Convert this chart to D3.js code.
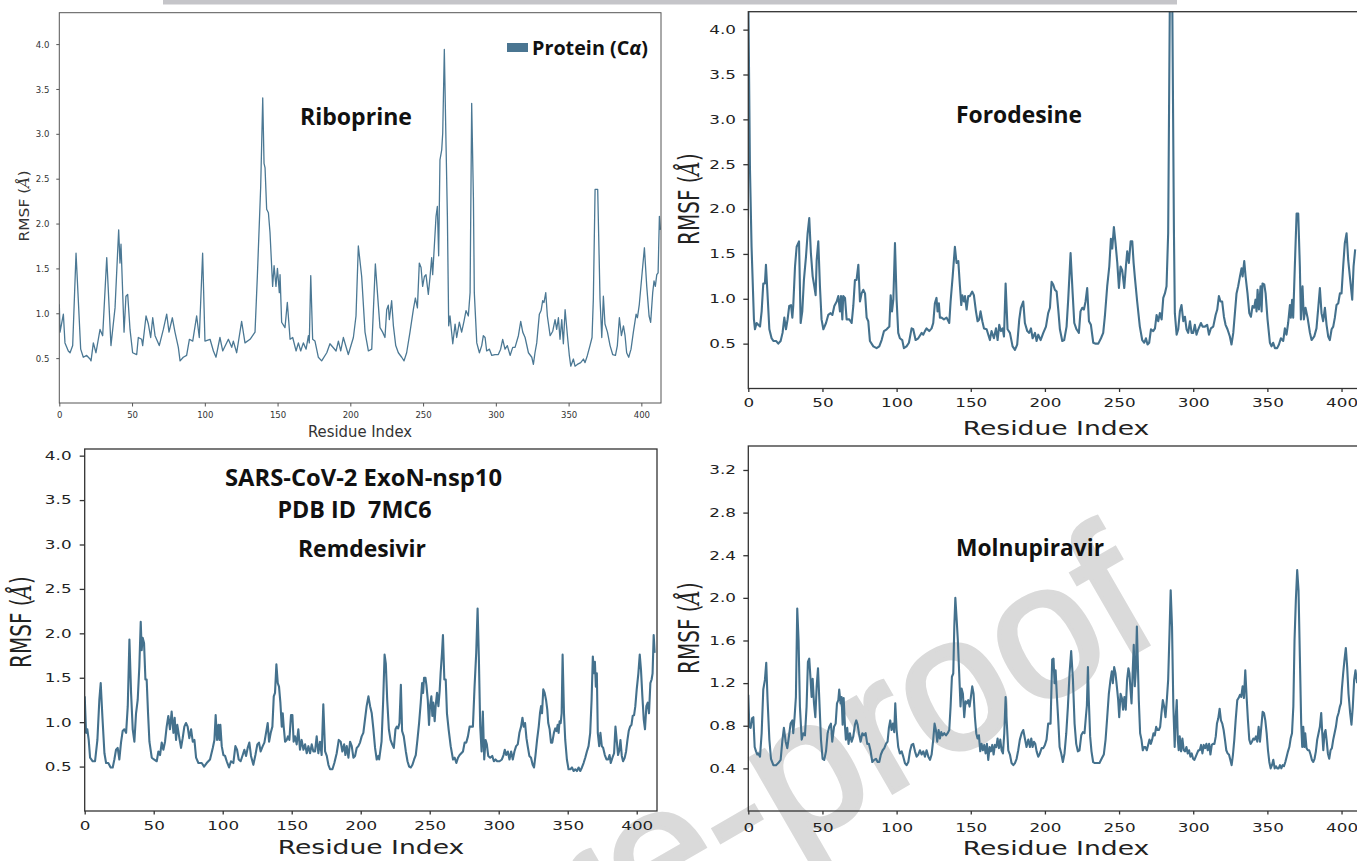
<!DOCTYPE html>
<html>
<head>
<meta charset="utf-8">
<script src="https://cdn.jsdelivr.net/npm/d3@7"></script>
<style>
  body { margin: 0; background: #fff; }
  svg { display: block; }
</style>
</head>
<body>
<script>
// RMSF per residue: [residue index, RMSF in Å]
const riboprine = [[0,1.10],[0.5,0.79],[2.8,0.99],[3.9,0.67],[6.2,0.58],[7.4,0.56],[9.2,0.64],[11.5,1.67],[14.7,0.60],[16.5,0.51],[18.8,0.53],[21.1,0.49],[21.8,0.47],[23.4,0.67],[25.2,0.56],[28.0,0.82],[29.8,0.75],[32.6,1.62],[35.5,0.64],[38.3,1.06],[40.8,1.93],[41.7,1.56],[42.4,1.77],[44.5,0.79],[45.8,1.19],[47.0,1.21],[48.6,0.82],[50.4,0.56],[53.2,0.54],[54.3,0.73],[56.6,0.71],[57.3,0.64],[59.6,0.97],[61.2,0.88],[62.8,0.73],[64.2,0.95],[65.8,0.75],[68.7,0.64],[71.5,0.82],[73.8,0.99],[75.4,0.79],[77.7,0.95],[79.5,0.79],[81.8,0.62],[83.0,0.47],[85.2,0.51],[87.5,0.53],[89.4,0.71],[91.7,0.69],[94.4,0.97],[96.2,0.73],[98.5,1.67],[100.1,0.69],[103.6,0.71],[105.9,0.58],[107.7,0.51],[110.4,0.73],[112.3,0.58],[116.2,0.71],[118.5,0.62],[119.6,0.69],[121.9,0.56],[125.3,0.91],[127.6,0.67],[131.1,0.71],[134.5,0.79],[136.1,1.41],[138.4,2.41],[139.8,3.40],[140.7,2.67],[141.4,2.62],[142.5,2.16],[143.7,2.12],[144.8,1.90],[146.6,1.30],[147.6,1.53],[148.9,1.30],[149.9,1.50],[151.2,1.23],[151.7,1.43],[152.8,0.90],[155.1,0.84],[156.7,1.12],[158.6,0.71],[160.4,0.73],[162.7,0.58],[164.3,0.67],[165.9,0.58],[167.7,0.67],[169.6,0.60],[171.2,0.75],[171.8,0.67],[172.8,1.42],[174.1,0.71],[175.7,0.69],[178.0,0.51],[180.3,0.47],[183.8,0.56],[186.0,0.66],[190.2,0.58],[191.8,0.69],[193.4,0.58],[195.2,0.73],[198.6,0.54],[202.1,0.73],[203.9,0.97],[205.5,1.75],[207.8,1.41],[210.1,0.79],[212.4,0.58],[214.7,0.60],[217.2,1.55],[219.3,1.08],[220.4,0.84],[222.2,0.79],[223.8,0.73],[225.0,1.04],[226.1,1.09],[226.8,0.93],[228.4,1.14],[229.6,0.86],[231.2,0.64],[233.0,0.56],[235.3,0.51],[236.9,0.47],[238.7,0.56],[241.0,0.79],[243.3,1.04],[244.7,1.17],[246.1,1.06],[247.4,1.56],[248.6,1.51],[249.7,1.30],[250.9,1.41],[252.0,1.43],[253.6,1.21],[254.8,1.41],[255.9,1.62],[256.6,1.43],[258.9,2.08],[259.8,2.19],[260.7,1.64],[261.6,2.71],[262.8,2.82],[263.5,3.01],[264.6,3.94],[265.8,2.86],[266.7,2.08],[267.6,0.86],[268.5,0.97],[270.4,0.66],[272.0,0.88],[273.1,0.73],[274.9,0.90],[276.5,0.79],[278.1,0.91],[279.5,1.03],[281.1,0.97],[282.3,1.23],[283.4,3.34],[284.6,2.27],[285.2,1.23],[286.9,0.67],[288.7,0.56],[290.3,0.64],[291.4,0.75],[292.6,0.73],[293.7,0.58],[295.6,0.60],[297.2,0.53],[299.4,0.54],[301.7,0.54],[303.3,0.60],[304.7,0.71],[306.3,0.60],[307.9,0.64],[309.8,0.53],[311.6,0.62],[313.2,0.62],[315.5,0.75],[317.1,0.91],[318.5,0.79],[320.1,0.73],[322.4,0.56],[324.7,0.51],[325.8,0.43],[326.9,0.56],[328.1,0.67],[329.9,0.99],[331.1,1.03],[332.2,1.14],[333.1,1.12],[334.3,1.23],[335.4,0.97],[337.3,0.75],[339.1,0.80],[340.7,0.93],[341.8,0.82],[343.0,0.95],[344.1,0.71],[345.3,0.93],[346.4,0.66],[347.6,1.04],[349.2,0.75],[350.5,0.53],[351.5,0.41],[353.3,0.49],[354.4,0.41],[356.0,0.43],[358.3,0.45],[360.2,0.49],[361.3,0.45],[362.9,0.53],[364.7,0.64],[366.1,0.73],[367.0,1.16],[368.2,2.38],[370.0,2.38],[371.6,1.16],[372.8,0.73],[373.9,1.19],[375.0,0.88],[376.7,0.79],[378.5,0.64],[380.3,0.54],[382.2,0.53],[383.5,0.64],[384.9,0.95],[386.3,0.75],[387.7,0.86],[388.8,0.75],[389.9,0.56],[391.3,0.51],[392.9,0.60],[394.5,0.79],[396.4,0.99],[397.3,0.95],[398.6,1.10],[400.3,1.41],[402.1,1.73],[403.7,1.30],[405.3,0.97],[406.4,0.90],[407.8,1.23],[408.7,1.36],[409.6,1.30],[410.6,1.43],[411.5,1.45],[412.4,2.08],[413.1,1.93]];

const forodesine = [[0,4.4],[1.1,2.47],[2.2,1.58],[3.8,0.77],[4.5,0.66],[5.6,0.73],[6.7,0.71],[7.9,0.69],[9.0,0.86],[10.1,1.17],[11.2,1.17],[11.9,1.38],[12.8,1.10],[14.2,0.66],[15.7,0.56],[16.9,0.53],[18.7,0.53],[20.2,0.50],[21.8,0.53],[23.1,0.62],[24.3,0.79],[25.4,0.66],[26.5,0.77],[27.6,0.92],[28.8,0.93],[29.7,0.79],[30.3,0.92],[31.5,1.36],[32.6,1.58],[34.2,1.64],[35.3,0.73],[36.4,0.86],[37.5,1.21],[38.9,1.47],[40.0,1.73],[41.1,1.90],[42.2,1.51],[43.4,1.25],[44.5,1.14],[45.4,1.04],[46.1,1.43],[47.2,1.64],[48.3,1.14],[49.4,0.77],[50.6,0.66],[52.4,0.73],[53.9,0.82],[55.5,0.84],[56.7,0.82],[58.0,0.92],[59.6,0.97],[60.7,1.03],[61.8,0.86],[62.5,1.03],[63.4,0.77],[64.0,1.03],[65.2,1.01],[66.3,0.77],[68.1,0.77],[69.7,0.73],[70.8,0.92],[71.9,1.21],[73.0,1.21],[74.2,1.38],[75.3,0.97],[76.4,1.06],[77.5,1.10],[78.7,1.06],[79.8,0.79],[80.9,0.75],[82.0,0.53],[84.3,0.47],[86.5,0.45],[88.3,0.47],[89.9,0.54],[91.5,0.64],[93.3,0.66],[95.1,0.69],[96.0,1.04],[96.9,0.86],[97.8,0.99],[98.9,1.62],[100.0,0.99],[101.1,0.62],[102.2,0.56],[103.8,0.54],[104.9,0.45],[106.7,0.47],[108.3,0.51],[110.1,0.67],[111.2,0.66],[112.8,0.54],[114.6,0.56],[116.9,0.62],[118.0,0.60],[119.1,0.64],[120.2,0.67],[122.0,0.64],[123.6,0.67],[124.7,0.73],[125.8,0.95],[126.9,1.01],[127.6,0.86],[128.5,0.95],[129.2,0.79],[130.3,0.79],[131.9,0.77],[133.7,0.79],[135.5,0.73],[136.4,0.97],[137.8,1.25],[139.3,1.58],[140.4,1.40],[141.6,1.42],[142.7,1.14],[143.6,0.93],[144.3,1.04],[145.4,0.97],[146.1,1.03],[147.2,0.88],[148.3,1.03],[149.4,1.03],[151.0,1.08],[152.1,1.04],[153.5,0.86],[154.6,0.75],[155.7,0.77],[156.6,0.86],[157.8,0.75],[158.9,0.67],[160.7,0.66],[162.9,0.54],[164.0,0.64],[165.6,0.56],[167.0,0.67],[168.1,0.54],[169.2,0.71],[170.3,0.64],[171.5,0.67],[172.4,0.58],[173.5,1.17],[174.8,0.66],[176.4,0.62],[178.2,0.47],[179.8,0.43],[181.3,0.49],[182.7,0.77],[183.8,0.90],[185.4,0.97],[186.5,0.73],[188.1,0.64],[189.4,0.62],[190.6,0.67],[191.7,0.56],[193.3,0.62],[194.4,0.53],[195.5,0.60],[197.1,0.54],[198.9,0.62],[200.7,0.69],[202.2,0.84],[203.4,0.90],[204.5,1.19],[205.6,1.16],[206.7,1.10],[207.9,1.08],[209.0,0.88],[210.1,0.66],[211.7,0.53],[213.0,0.54],[214.6,0.69],[215.7,0.99],[217.3,1.51],[218.7,1.06],[219.8,0.73],[221.3,0.66],[222.9,0.62],[224.0,0.86],[225.2,0.90],[226.3,0.88],[227.4,0.97],[228.5,1.12],[229.7,0.75],[231.0,0.71],[232.6,0.51],[234.2,0.50],[236.0,0.50],[237.8,0.56],[239.3,0.62],[240.4,0.80],[242.0,1.14],[243.4,1.36],[244.5,1.67],[245.4,1.56],[246.5,1.80],[247.6,1.62],[248.8,1.40],[249.9,1.12],[251.0,1.36],[252.1,1.32],[253.5,1.12],[254.6,1.36],[255.5,1.53],[256.6,1.40],[257.8,1.64],[258.9,1.64],[259.8,1.40],[260.7,1.23],[262.2,0.97],[264.0,0.69],[265.6,0.54],[267.0,0.51],[268.1,0.56],[269.2,0.49],[270.3,0.51],[271.5,0.66],[273.0,0.64],[274.2,0.67],[275.3,0.82],[276.4,0.75],[277.5,0.84],[278.7,0.77],[279.8,1.01],[280.9,1.06],[282.0,1.14],[283.1,1.73],[284.3,4.5],[285.8,4.5],[287.0,1.73],[287.6,0.84],[288.8,0.60],[289.9,0.66],[291.0,0.86],[292.1,0.93],[293.3,0.75],[294.4,0.80],[295.5,0.66],[296.6,0.62],[297.8,0.75],[298.9,0.62],[300.0,0.62],[301.1,0.71],[302.2,0.60],[303.4,0.66],[305.2,0.73],[306.3,0.69],[307.9,0.69],[309.4,0.71],[310.6,0.60],[311.9,0.67],[313.5,0.69],[315.1,0.82],[316.2,0.88],[317.3,1.03],[318.4,0.97],[319.5,0.97],[320.7,0.80],[321.8,0.71],[323.1,0.66],[324.7,0.58],[325.8,0.49],[327.0,0.62],[328.1,0.84],[329.2,1.06],[330.3,1.14],[331.5,1.25],[332.6,1.34],[333.3,1.25],[334.4,1.42],[335.3,1.25],[336.6,1.06],[337.8,0.84],[338.9,0.80],[340.0,0.92],[341.1,0.90],[342.0,0.99],[342.7,0.86],[343.4,1.10],[344.3,0.88],[345.4,1.14],[346.1,0.86],[346.7,1.17],[347.9,1.16],[348.8,1.06],[350.1,0.77],[351.7,0.51],[352.8,0.47],[353.9,0.51],[355.1,0.45],[356.6,0.45],[357.8,0.49],[359.1,0.56],[360.7,0.53],[361.8,0.67],[362.9,0.60],[364.0,0.73],[365.2,0.93],[365.8,0.79],[366.7,0.99],[367.4,0.79],[368.5,1.36],[369.7,1.95],[370.8,1.95],[371.9,1.36],[372.6,0.77],[373.7,1.14],[374.6,0.77],[375.7,0.90],[377.1,0.79],[378.7,0.62],[379.8,0.54],[381.6,0.58],[383.1,0.67],[384.3,0.90],[385.4,1.12],[386.5,0.84],[387.6,0.75],[388.8,0.90],[389.9,0.71],[391.0,0.58],[392.1,0.54],[393.3,0.66],[394.4,0.69],[395.5,0.79],[396.6,0.93],[397.8,0.95],[398.9,1.06],[400.0,1.06],[401.1,1.36],[402.2,1.62],[403.4,1.73],[404.5,1.43],[406.1,1.17],[407.2,0.99],[408.1,1.36],[409.2,1.55]];

const remdesivir = [[0,1.29],[1.0,0.88],[1.9,0.92],[2.9,0.80],[3.9,0.60],[5.8,0.56],[7.5,0.56],[9.2,0.80],[10.6,1.25],[11.6,1.44],[12.8,1.07],[14.3,0.65],[15.5,0.54],[17.1,0.54],[18.8,0.49],[20.3,0.49],[21.5,0.58],[22.7,0.69],[23.9,0.71],[25.1,0.58],[26.3,0.77],[27.5,0.90],[28.7,0.92],[30.0,0.88],[31.2,1.18],[32.4,1.93],[33.6,1.33],[34.8,0.92],[36.0,0.78],[37.2,1.10],[38.4,1.25],[39.6,1.63],[40.6,2.13],[41.3,1.81],[42.0,1.95],[43.0,1.89],[44.0,1.48],[44.9,1.48],[45.9,1.10],[46.9,0.78],[48.6,0.60],[50.2,0.58],[52.2,0.56],[53.4,0.67],[54.6,0.63],[55.8,0.77],[57.0,0.69],[58.2,0.78],[59.4,0.95],[60.6,1.07],[61.8,0.92],[63.0,1.12],[64.3,0.88],[65.2,1.05],[66.2,0.80],[67.1,0.97],[68.6,0.82],[69.8,0.71],[71.0,0.82],[72.2,0.95],[73.4,0.99],[74.6,0.95],[75.8,0.82],[77.1,0.92],[78.3,0.78],[79.5,0.80],[80.7,0.60],[82.4,0.54],[84.8,0.54],[86.5,0.50],[88.4,0.54],[90.8,0.58],[92.8,0.71],[94.0,0.80],[94.9,1.08],[95.9,0.80],[96.9,0.97],[97.6,0.80],[98.3,0.97],[99.3,0.73],[100.5,0.63],[101.7,0.62],[102.9,0.56],[104.6,0.49],[106.0,0.56],[107.7,0.54],[109.2,0.73],[110.4,0.69],[111.6,0.58],[113.0,0.56],[114.5,0.63],[115.7,0.69],[116.9,0.62],[118.1,0.71],[119.3,0.77],[120.5,0.62],[122.2,0.52],[123.7,0.63],[125.1,0.75],[126.3,0.77],[127.5,0.67],[129.0,0.73],[130.2,0.77],[131.4,0.88],[132.6,0.99],[133.6,0.78],[134.8,0.88],[136.0,0.95],[137.0,1.29],[137.9,1.33],[138.9,1.65],[139.9,1.44],[140.8,1.40],[141.8,1.22],[142.8,0.95],[143.5,1.10],[144.2,0.95],[145.2,0.78],[146.4,0.80],[147.3,0.84],[148.3,0.80],[149.5,1.08],[150.5,1.08],[151.4,0.78],[152.4,0.84],[153.6,0.75],[154.8,0.92],[156.0,0.69],[157.2,0.80],[158.5,0.69],[159.7,0.75],[160.9,0.65],[162.1,0.73],[163.3,0.65],[164.5,0.75],[165.7,0.67],[166.9,0.67],[168.1,0.84],[169.3,0.65],[170.5,0.78],[171.7,0.63],[172.9,1.20],[174.2,0.67],[175.4,0.62],[176.6,0.52],[177.8,0.47],[179.5,0.47],[180.9,0.54],[182.6,0.65],[184.1,0.80],[185.5,0.78],[186.7,0.67],[188.0,0.75],[188.9,0.63],[189.9,0.73],[191.1,0.60],[192.3,0.78],[193.5,0.73],[194.7,0.60],[195.9,0.62],[197.1,0.71],[198.3,0.73],[199.5,0.77],[200.7,0.84],[201.9,0.88],[203.1,1.03],[204.3,1.18],[205.6,1.29],[206.8,1.18],[208.0,1.10],[209.2,0.92],[210.4,0.71],[211.6,0.58],[212.8,0.62],[213.4,0.58],[215.1,0.78],[216.3,1.25],[217.3,1.76],[218.2,1.66],[219.2,1.25],[220.4,0.92],[221.6,0.80],[222.8,0.75],[224.0,0.71],[225.2,0.92],[226.2,0.95],[227.1,0.93],[228.1,0.99],[229.1,1.42],[230.0,0.90],[231.2,0.84],[232.7,0.67],[233.9,0.56],[235.1,0.50],[236.3,0.49],[237.5,0.52],[238.7,0.58],[239.9,0.63],[241.1,0.80],[242.3,0.99],[243.5,1.22],[244.5,1.44],[245.2,1.33],[245.9,1.50],[246.9,1.50],[247.6,1.42],[248.6,1.25],[249.5,0.97],[250.2,1.18],[251.2,1.29],[251.9,1.07],[252.6,1.22],[253.6,1.01],[254.3,1.18],[255.3,1.33],[256.3,1.18],[257.2,1.35],[257.9,1.55],[258.9,1.78],[259.6,1.98],[260.6,1.48],[261.6,1.48],[262.5,1.10],[263.7,0.92],[265.2,0.73],[266.9,0.58],[268.1,0.60],[269.3,0.54],[270.5,0.60],[271.7,0.63],[272.9,0.65],[274.1,0.67],[275.3,0.77],[276.5,0.77],[277.7,0.84],[278.9,0.95],[280.1,0.95],[281.3,0.95],[282.5,1.40],[283.7,1.78],[284.7,2.28],[285.6,1.74],[286.6,0.95],[287.6,0.67],[288.5,1.12],[289.5,0.58],[290.5,0.80],[291.4,0.75],[292.4,0.62],[293.8,0.60],[295.3,0.62],[296.5,0.56],[297.7,0.58],[298.9,0.56],[300.6,0.56],[302.3,0.58],[303.5,0.63],[304.4,0.69],[305.4,0.63],[306.6,0.67],[307.8,0.58],[309.0,0.67],[310.2,0.58],[311.4,0.67],[312.6,0.73],[313.8,0.75],[315.0,0.88],[316.2,0.95],[317.2,1.05],[318.1,0.95],[319.1,0.99],[320.1,0.82],[321.0,0.73],[322.2,0.62],[323.4,0.60],[324.6,0.52],[325.6,0.49],[326.6,0.62],[327.8,0.80],[329.0,0.95],[329.9,1.10],[330.7,1.18],[331.4,1.10],[332.3,1.37],[333.3,1.33],[334.3,1.25],[335.2,1.14],[335.9,0.99],[336.9,0.92],[337.9,0.77],[338.8,0.77],[340.0,0.88],[341.0,0.93],[341.9,0.90],[342.7,0.97],[343.4,0.88],[344.1,1.01],[344.9,0.99],[345.6,1.10],[346.3,1.76],[347.3,1.10],[348.2,0.80],[349.4,0.58],[350.6,0.47],[351.9,0.47],[353.1,0.49],[354.3,0.45],[355.5,0.47],[356.7,0.45],[357.9,0.49],[359.1,0.45],[360.3,0.49],[361.5,0.54],[362.7,0.60],[363.9,0.67],[365.1,0.73],[366.3,0.88],[367.3,1.25],[368.2,1.74],[369.0,1.55],[369.7,1.68],[370.4,1.40],[371.1,1.55],[371.8,0.88],[372.8,0.73],[373.7,0.88],[374.7,0.73],[375.7,0.71],[376.9,0.63],[378.1,0.58],[379.3,0.58],[380.3,0.63],[381.2,0.54],[382.4,0.60],[383.6,0.65],[384.6,0.95],[385.6,0.78],[386.5,0.63],[387.5,0.69],[388.2,0.80],[389.2,0.62],[390.1,0.56],[391.3,0.60],[392.3,0.67],[393.3,0.80],[394.2,0.90],[395.2,0.95],[396.2,0.97],[397.1,1.07],[398.1,1.08],[399.0,1.18],[400.0,1.37],[401.2,1.55],[402.2,1.76],[403.1,1.59],[404.1,1.29],[405.1,1.03],[406.0,0.92],[407.0,1.18],[408.0,1.22],[408.9,1.10],[409.9,1.44],[410.8,1.48],[411.5,1.55],[412.3,1.98],[413.0,1.78]];

const molnupiravir = [[0,1.09],[0.7,0.79],[1.6,0.78],[2.5,0.87],[3.4,0.88],[4.3,0.60],[5.2,0.56],[6.1,0.53],[6.7,0.54],[7.9,0.51],[9.0,0.73],[10.1,1.14],[11.2,1.23],[12.1,1.39],[13.0,1.04],[14.2,0.67],[15.3,0.49],[16.9,0.43],[18.7,0.43],[20.2,0.45],[21.8,0.48],[22.9,0.65],[24.0,0.78],[25.2,0.65],[26.3,0.59],[27.4,0.70],[28.5,0.82],[29.7,0.85],[30.3,0.73],[31.2,0.88],[32.1,1.07],[33.0,1.90],[33.9,1.60],[34.8,0.98],[36.0,0.67],[37.1,0.73],[38.2,0.71],[39.3,0.98],[40.2,1.40],[41.1,1.43],[42.0,1.23],[42.7,1.07],[43.4,1.24],[44.3,1.01],[45.2,0.88],[46.1,1.17],[47.0,1.34],[47.9,1.04],[49.0,0.67],[50.1,0.49],[51.2,0.48],[52.4,0.56],[53.5,0.73],[54.6,0.79],[55.7,0.82],[56.6,0.65],[57.8,0.79],[58.9,0.82],[59.8,1.01],[60.7,1.04],[61.3,1.14],[62.2,1.01],[62.9,1.07],[63.6,0.81],[64.3,1.06],[65.2,0.79],[65.8,0.67],[66.7,0.78],[67.6,0.63],[68.5,0.73],[69.7,0.65],[70.8,0.70],[71.9,0.81],[72.8,0.85],[73.7,0.81],[74.6,0.73],[75.7,0.65],[76.9,0.73],[78.0,0.71],[79.1,0.73],[80.2,0.63],[81.3,0.63],[82.5,0.56],[83.6,0.46],[84.9,0.48],[86.1,0.49],[87.2,0.46],[88.3,0.46],[89.4,0.53],[90.6,0.57],[91.7,0.59],[92.8,0.63],[93.9,0.65],[94.8,0.78],[95.7,0.85],[96.6,0.76],[97.5,0.82],[98.4,0.74],[99.1,1.01],[100.0,0.76],[101.1,0.60],[102.2,0.54],[103.4,0.56],[104.5,0.51],[105.6,0.45],[106.7,0.43],[107.9,0.46],[109.0,0.56],[110.1,0.62],[111.2,0.63],[112.4,0.56],[113.5,0.51],[114.6,0.53],[115.7,0.57],[116.9,0.53],[118.0,0.56],[119.1,0.51],[120.2,0.57],[121.4,0.51],[122.5,0.48],[123.6,0.53],[124.7,0.67],[125.6,0.82],[126.5,0.76],[127.4,0.65],[128.3,0.76],[129.2,0.68],[130.1,0.74],[131.0,0.71],[132.1,0.73],[133.3,0.71],[134.4,0.73],[135.5,0.76],[136.4,0.98],[137.3,1.26],[138.2,1.29],[138.9,1.73],[139.6,2.00],[140.4,1.82],[141.3,1.60],[142.2,1.29],[143.1,0.98],[143.8,1.15],[144.7,1.10],[145.6,0.88],[146.5,1.03],[147.4,1.01],[148.3,1.04],[149.2,0.98],[150.1,1.07],[151.0,1.17],[151.9,1.10],[152.8,0.88],[153.7,0.73],[154.6,0.68],[155.5,0.71],[156.4,0.56],[157.3,0.63],[158.2,0.57],[159.1,0.62],[160.0,0.54],[160.9,0.63],[161.8,0.48],[162.7,0.60],[163.6,0.56],[164.5,0.62],[165.4,0.53],[166.3,0.62],[167.2,0.60],[168.1,0.68],[169.0,0.59],[169.9,0.67],[170.8,0.57],[171.7,0.54],[172.6,0.73],[173.5,1.07],[174.2,0.85],[175.3,0.57],[176.4,0.53],[177.5,0.45],[178.7,0.43],[179.8,0.45],[180.9,0.49],[182.0,0.57],[183.1,0.67],[184.3,0.73],[185.4,0.76],[186.5,0.68],[187.6,0.60],[188.8,0.67],[189.9,0.60],[190.8,0.68],[191.7,0.60],[192.6,0.65],[193.5,0.63],[194.4,0.56],[195.5,0.51],[196.6,0.54],[197.8,0.59],[198.9,0.59],[200.0,0.62],[201.1,0.67],[202.2,0.82],[203.8,0.82],[204.9,1.42],[205.8,1.43],[206.5,1.20],[207.2,1.32],[208.1,1.07],[209.0,0.85],[209.9,0.60],[211.0,0.54],[212.1,0.46],[213.2,0.54],[214.4,0.73],[215.5,0.98],[216.6,1.29],[217.7,1.50],[218.9,1.23],[220.0,0.82],[221.1,0.63],[222.2,0.56],[223.3,0.57],[224.5,0.71],[225.6,0.74],[226.7,0.73],[227.6,0.88],[228.3,0.99],[229.0,1.35],[229.6,1.04],[230.5,0.70],[231.4,0.56],[232.5,0.46],[233.7,0.45],[235.2,0.45],[236.8,0.45],[238.2,0.49],[239.7,0.53],[240.9,0.67],[242.0,0.88],[243.1,1.10],[244.2,1.23],[245.1,1.31],[245.8,1.20],[246.7,1.35],[247.6,1.29],[248.5,1.17],[249.4,1.04],[250.1,0.88],[251.0,1.10],[251.9,1.06],[252.7,0.95],[253.6,1.07],[254.5,0.95],[255.4,1.23],[256.3,1.34],[257.0,1.29],[257.7,1.14],[258.4,1.01],[259.3,1.35],[259.9,1.56],[260.6,1.17],[261.3,1.32],[262.0,1.73],[262.6,1.42],[263.3,1.04],[264.2,0.73],[265.1,0.67],[266.0,0.57],[266.9,0.60],[267.8,0.60],[268.7,0.57],[269.6,0.62],[270.5,0.67],[271.4,0.63],[272.3,0.67],[273.2,0.73],[274.1,0.71],[275.0,0.79],[275.9,0.76],[276.8,0.76],[277.7,0.79],[278.6,0.92],[279.5,1.04],[280.4,0.98],[281.3,0.88],[282.2,1.04],[283.1,1.23],[284.0,1.67],[284.8,2.07],[285.7,1.73],[286.6,0.98],[287.5,0.60],[288.2,0.88],[288.9,1.04],[289.6,0.67],[290.2,0.57],[290.9,0.70],[291.8,0.56],[292.7,0.68],[293.6,0.57],[294.5,0.56],[295.4,0.60],[296.3,0.54],[297.2,0.57],[298.1,0.51],[299.0,0.54],[299.9,0.49],[300.8,0.48],[301.7,0.51],[302.6,0.54],[303.5,0.57],[304.4,0.57],[305.3,0.62],[306.2,0.54],[307.1,0.62],[308.0,0.59],[308.9,0.63],[309.8,0.57],[310.7,0.63],[311.6,0.53],[312.5,0.62],[313.4,0.63],[314.3,0.63],[315.2,0.70],[316.0,0.82],[316.9,0.87],[317.8,0.96],[318.7,0.85],[319.6,0.82],[320.5,0.76],[321.4,0.67],[322.3,0.57],[323.2,0.54],[324.1,0.53],[325.0,0.48],[325.9,0.43],[326.8,0.53],[327.7,0.67],[328.6,0.85],[329.7,1.04],[330.6,1.06],[331.5,1.09],[332.4,1.07],[333.3,1.17],[334.2,1.06],[335.1,1.32],[336.0,1.07],[336.9,0.85],[337.8,0.67],[338.7,0.63],[339.6,0.65],[340.5,0.68],[341.4,0.67],[342.3,0.70],[343.2,0.65],[344.1,0.79],[345.0,0.65],[345.9,0.79],[346.8,0.93],[347.7,0.92],[348.6,0.85],[349.5,0.73],[350.4,0.57],[351.3,0.46],[352.2,0.40],[353.1,0.43],[354.0,0.48],[354.9,0.40],[355.8,0.42],[356.7,0.40],[357.6,0.40],[358.5,0.43],[359.4,0.40],[360.3,0.43],[361.2,0.42],[362.1,0.46],[363.0,0.51],[363.9,0.56],[364.8,0.60],[365.7,0.68],[366.6,0.73],[367.5,0.98],[368.3,1.60],[369.2,1.98],[370.1,2.26],[371.0,2.07],[371.9,1.45],[372.8,0.82],[373.5,0.60],[374.2,0.79],[374.9,0.60],[375.5,0.73],[376.4,0.59],[377.3,0.57],[378.2,0.57],[379.1,0.53],[380.0,0.48],[380.9,0.46],[381.8,0.49],[382.7,0.56],[383.6,0.67],[384.5,0.73],[385.4,0.79],[386.3,0.92],[387.0,0.73],[387.7,0.57],[388.5,0.73],[389.2,0.76],[389.9,0.67],[390.8,0.54],[391.7,0.49],[392.6,0.57],[393.5,0.59],[394.4,0.67],[395.3,0.73],[396.2,0.79],[397.1,0.88],[398.0,0.92],[398.9,0.98],[399.6,1.01],[400.2,1.14],[401.1,1.29],[402.0,1.42],[402.9,1.53],[403.8,1.35],[404.7,1.10],[405.8,0.92],[406.7,0.81],[407.6,0.98],[408.5,1.23],[409.4,1.32],[410.5,1.20]];

// tick values
const residueTicks = [0, 50, 100, 150, 200, 250, 300, 350, 400];
const rmsfTicks = [0.5, 1.0, 1.5, 2.0, 2.5, 3.0, 3.5, 4.0];
const rmsfTicksMol = [0.4, 0.8, 1.2, 1.6, 2.0, 2.4, 2.8, 3.2];

// texts
const xAxisTitle = 'Residue Index';
const legendLabel = ['Protein (C', 'α', ')'];
const remdesivirHeader = ['SARS-CoV-2 ExoN-nsp10', 'PDB ID  7MC6', 'Remdesivir'];
const watermark = 'Journal Pre-proof';

// panel layout (pixel geometry of the original composite)
const panels = [
  { id: 'ribo', data: riboprine, yTicks: rmsfTicks,
    xMax: 413.5, xRange: [59.3, 661], yMax: 4.35, yRange: [403, 12.7],
    sx: 0.9, tickFont: 9.5, xTickLen: 3.5, xPad: 5, yTickLen: 3, yPad: 8,
    lineColor: '#4b7894', lineWidth: 1.3, frame: '#555', frameW: 1, textColor: '#333',
    xLab: [360, 437, 16.5], yLab: [24, 206, 15.5],
    titles: [{ t: 'Riboprine', x: 356, y: 125, size: 23, len: 112 }] },
  { id: 'foro', data: forodesine, yTicks: rmsfTicks,
    xMax: 414, xRange: [748.3, 1362.3], yMax: 4.2, yRange: [388.5, 11.7],
    sx: 1.4, tickFont: 12, xTickLen: 3.5, xPad: 6, yTickLen: 5, yPad: 3.8,
    lineColor: '#44718d', lineWidth: 2.1, frame: '#333', frameW: 1.3, textColor: '#222',
    xLab: [1056, 435, 19], yLab: [689, 199, 20],
    titles: [{ t: 'Forodesine', x: 1019, y: 122.7, size: 23, len: 126 }] },
  { id: 'remd', data: remdesivir, yTicks: rmsfTicks,
    xMax: 414.7, xRange: [84.7, 657], yMax: 4.075, yRange: [811, 449],
    sx: 1.4, tickFont: 12, xTickLen: 3.5, xPad: 7.2, yTickLen: 5, yPad: 4.4,
    lineColor: '#44718d', lineWidth: 2.1, frame: '#333', frameW: 1.3, textColor: '#222',
    xLab: [371, 854, 19], yLab: [21, 622, 20],
    titles: [
      { t: remdesivirHeader[0], x: 363.5, y: 486, size: 23, len: 277 },
      { t: remdesivirHeader[1], x: 354.5, y: 518.3, size: 23, len: 154 },
      { t: remdesivirHeader[2], x: 362, y: 556.7, size: 23, len: 128 }] },
  { id: 'moln', data: molnupiravir, yTicks: rmsfTicksMol,
    xMax: 414, xRange: [748.3, 1362.3], yMax: 3.425, yRange: [811, 446],
    sx: 1.4, tickFont: 12, xTickLen: 3.5, xPad: 8.5, yTickLen: 5, yPad: 3.8,
    lineColor: '#44718d', lineWidth: 2.1, frame: '#333', frameW: 1.3, textColor: '#222',
    xLab: [1056, 855, 19], yLab: [689, 628, 20],
    titles: [{ t: 'Molnupiravir', x: 1030, y: 556, size: 23, len: 148 }] }
];

const svg = d3.select('body').append('svg')
  .attr('width', 1357).attr('height', 861)
  .style('font-family', '"DejaVu Sans", sans-serif');

// grey strip along the top of the page
svg.append('rect').attr('x', 163).attr('y', 0).attr('width', 1014).attr('height', 4.5).attr('fill', '#c5c5c9');

// watermark sits behind the plots, partly off the page like in the source
svg.append('text')
  .attr('transform', 'translate(1165,635) rotate(-30)')
  .attr('text-anchor', 'end')
  .style('font-family', '"Liberation Sans", Arial, sans-serif')
  .style('font-size', '190px')
  .attr('fill', '#dadada')
  .attr('stroke', '#dadada')
  .attr('stroke-width', 4)
  .text(watermark);

const defs = svg.append('defs');

function drawPanel(p) {
  const x = d3.scaleLinear().domain([0, p.xMax]).range(p.xRange);
  const y = d3.scaleLinear().domain([0, p.yMax]).range(p.yRange);
  const g = svg.append('g');

  const box = { x: x(0), y: y(p.yMax), w: x(p.xMax) - x(0), h: y(0) - y(p.yMax) };
  defs.append('clipPath').attr('id', 'clip-' + p.id).append('rect')
    .attr('x', box.x).attr('y', box.y).attr('width', box.w).attr('height', box.h);

  const line = d3.line().x(d => x(d[0])).y(d => y(d[1]));
  g.append('path').datum(p.data)
    .attr('clip-path', `url(#clip-${p.id})`)
    .attr('d', line)
    .attr('fill', 'none')
    .attr('stroke', p.lineColor)
    .attr('stroke-width', p.lineWidth)
    .attr('stroke-linejoin', 'round');

  g.append('rect')
    .attr('x', box.x).attr('y', box.y).attr('width', box.w).attr('height', box.h)
    .attr('fill', 'none').attr('stroke', p.frame).attr('stroke-width', p.frameW);

  // x axis
  const xa = g.append('g').attr('transform', `translate(0,${y(0)})`)
    .call(d3.axisBottom(x).tickValues(residueTicks).tickSize(p.xTickLen).tickPadding(p.xPad).tickFormat(d3.format('d')));
  // y axis
  const ya = g.append('g').attr('transform', `translate(${x(0)},0)`)
    .call(d3.axisLeft(y).tickValues(p.yTicks).tickSize(p.yTickLen).tickPadding(p.yPad).tickFormat(d3.format('.1f')));

  [xa, ya].forEach(a => {
    a.attr('font-family', null).attr('font-size', null);
    a.select('.domain').remove();
    a.selectAll('line').attr('stroke', p.frame).attr('stroke-width', p.frameW);
    a.selectAll('text')
      .attr('transform', `scale(${p.sx},1)`)
      .style('font-size', p.tickFont + 'px')
      .attr('fill', p.textColor);
  });

  // axis titles
  g.append('text')
    .attr('transform', `translate(${p.xLab[0]},${p.xLab[1]}) scale(${p.sx},1)`)
    .attr('text-anchor', 'middle')
    .style('font-size', p.xLab[2] + 'px')
    .attr('fill', p.textColor)
    .text(xAxisTitle);

  const yl = g.append('text')
    .attr('transform', `translate(${p.yLab[0]},${p.yLab[1]}) scale(${p.sx},1) rotate(-90)`)
    .attr('text-anchor', 'middle')
    .attr('dy', '0.35em')
    .style('font-size', p.yLab[2] + 'px')
    .attr('fill', p.textColor);
  yl.append('tspan').text('RMSF (');
  yl.append('tspan').text('Å').style('font-family', '"DejaVu Serif", serif').style('font-style', 'italic');
  yl.append('tspan').text(')');

  // bold annotations inside the plot
  p.titles.forEach(t => {
    g.append('text')
      .attr('x', t.x).attr('y', t.y)
      .attr('text-anchor', 'middle')
      .attr('textLength', t.len)
      .attr('lengthAdjust', 'spacingAndGlyphs')
      .style('white-space', 'pre')
      .style('font-family', '"Open Sans", sans-serif')
      .style('font-weight', 700)
      .style('font-size', t.size + 'px')
      .attr('fill', '#111')
      .text(t.t);
  });
}

panels.forEach(drawPanel);

// legend of the first panel
svg.append('rect').attr('x', 507).attr('y', 43).attr('width', 21).attr('height', 9).attr('fill', '#4a7591');
const lg = svg.append('text')
  .attr('x', 532).attr('y', 54.5)
  .attr('textLength', 116).attr('lengthAdjust', 'spacingAndGlyphs')
  .style('font-family', '"Open Sans", sans-serif')
  .style('font-weight', 700)
  .style('font-size', '19px')
  .attr('fill', '#111');
lg.append('tspan').text(legendLabel[0]);
lg.append('tspan').text(legendLabel[1]).style('font-style', 'italic');
lg.append('tspan').text(legendLabel[2]);
</script>
</body>
</html>
